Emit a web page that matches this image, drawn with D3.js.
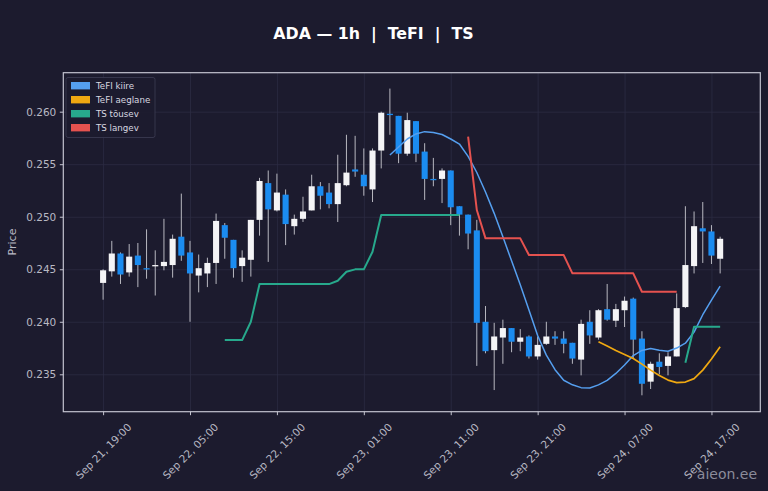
<!DOCTYPE html>
<html lang="et">

<head>
    <meta charset="UTF-8">
    <title>ADA — 1h | TeFI | TS</title>
    <script src="https://cdnjs.cloudflare.com/ajax/libs/d3/7.8.5/d3.min.js"></script>
    <style>
        body {
            margin: 0;
            background: #1c1b2e;
            font-family: 'DejaVu Sans', sans-serif;
        }

        svg#main {
            display: block;
        }

        .axis text {
            fill: #b9b9c4;
            font-family: 'DejaVu Sans', sans-serif;
            font-size: 10.5px;
        }

        .axis line {
            stroke: #c4c4d0;
        }

        .axis path.domain {
            display: none;
        }

        .grid line {
            stroke: #2c2c42;
            stroke-width: 0.8px;
        }

        .grid path.domain {
            display: none;
        }

        line.wick {
            stroke: #b8b8c0;
            stroke-width: 1px;
        }

        .legend text {
            fill: #d8d8e0;
            font-size: 8.7px;
        }
    </style>
</head>

<body>
    <svg id="main" width="768" height="491"></svg>
    <script>
        "use strict";

        // hourly candles, first one at Sep 21 19:00 (UTC)
        const firstCandle = "2025-09-21T19:00:00Z";

        const opens = [0.2437, 0.2448, 0.2465, 0.2447, 0.2463, 0.2451, 0.2453, 0.2453, 0.2454, 0.2481,
            0.2466, 0.2444, 0.2446, 0.2456, 0.2492, 0.2478, 0.2453, 0.2459, 0.2497, 0.2532,
            0.2506, 0.2521, 0.2491, 0.2498, 0.2506, 0.2529, 0.2523, 0.2512, 0.2530, 0.2545,
            0.2540, 0.2526, 0.2563, 0.2598, 0.2596, 0.2560, 0.2591, 0.2562, 0.2536, 0.2536,
            0.2544, 0.2510, 0.2502, 0.2487, 0.2400, 0.2373, 0.2385, 0.2394, 0.2381, 0.2386,
            0.2367, 0.2379, 0.2386, 0.2384, 0.2380, 0.2364, 0.2400, 0.2385, 0.2412, 0.2401,
            0.2411, 0.2422, 0.2384, 0.2343, 0.2362, 0.2358, 0.2367, 0.2414, 0.2453, 0.2489,
            0.2486, 0.2460];

        const highs = [0.2450, 0.2477, 0.2466, 0.2474, 0.2475, 0.2488, 0.2468, 0.2498, 0.2483, 0.2522,
            0.2477, 0.2464, 0.2461, 0.2503, 0.2494, 0.2478, 0.2468, 0.2497, 0.2537, 0.2544,
            0.2541, 0.2526, 0.2502, 0.2519, 0.2540, 0.2533, 0.2532, 0.2559, 0.2578, 0.2577,
            0.2565, 0.2565, 0.2600, 0.2622, 0.2596, 0.2599, 0.2591, 0.2570, 0.2556, 0.2546,
            0.2544, 0.2510, 0.2502, 0.2497, 0.2415, 0.2399, 0.2402, 0.2394, 0.2393, 0.2387,
            0.2386, 0.2400, 0.2391, 0.2391, 0.2380, 0.2402, 0.2411, 0.2412, 0.2436, 0.2417,
            0.2424, 0.2423, 0.2391, 0.2362, 0.2370, 0.2371, 0.2427, 0.2510, 0.2505, 0.2514,
            0.2492, 0.2481];

        const lows = [0.2421, 0.2443, 0.2436, 0.2443, 0.2433, 0.2441, 0.2425, 0.2449, 0.2442, 0.2458,
            0.2400, 0.2428, 0.2433, 0.2436, 0.2460, 0.2442, 0.2438, 0.2443, 0.2482, 0.2457,
            0.2505, 0.2473, 0.2483, 0.2495, 0.2506, 0.2507, 0.2508, 0.2495, 0.2529, 0.2538,
            0.2520, 0.2514, 0.2546, 0.2578, 0.2551, 0.2558, 0.2552, 0.2516, 0.2529, 0.2513,
            0.2492, 0.2482, 0.2469, 0.2358, 0.2370, 0.2335, 0.2360, 0.2371, 0.2372, 0.2365,
            0.2364, 0.2378, 0.2378, 0.2370, 0.2360, 0.2349, 0.2379, 0.2383, 0.2401, 0.2395,
            0.2395, 0.2365, 0.2330, 0.2336, 0.2350, 0.2349, 0.2367, 0.2413, 0.2446, 0.2456,
            0.2455, 0.2446];

        const closes = [0.2449, 0.2465, 0.2445, 0.2462, 0.2454, 0.2450, 0.2454, 0.2457, 0.2479, 0.2463,
            0.2446, 0.2451, 0.2456, 0.2496, 0.2480, 0.2451, 0.2461, 0.2497, 0.2534, 0.2507,
            0.2523, 0.2493, 0.2498, 0.2505, 0.2529, 0.2520, 0.2512, 0.2532, 0.2542, 0.2543,
            0.2529, 0.2563, 0.2599, 0.2597, 0.2560, 0.2592, 0.2560, 0.2536, 0.2535, 0.2544,
            0.2509, 0.2502, 0.2484, 0.2399, 0.2372, 0.2386, 0.2394, 0.2381, 0.2385, 0.2367,
            0.2378, 0.2386, 0.2384, 0.2379, 0.2365, 0.2398, 0.2387, 0.2411, 0.2402, 0.2412,
            0.2420, 0.2383, 0.2341, 0.2360, 0.2357, 0.2367, 0.2413, 0.2454, 0.2491, 0.2486,
            0.2463, 0.2479];

        const _ = null;

        // TeFI kiire (fast)
        const tefiFast = [_, _, _, _, _, _, _, _, _, _,
            _, _, _, _, _, _, _, _, _, _,
            _, _, _, _, _, _, _, _, _, _,
            _, _, _, 0.25588, 0.25664, 0.25740, 0.25788, 0.25810, 0.25802, 0.25783,
            0.25740, 0.25692, 0.25574, 0.25421, 0.25236, 0.25032, 0.24809, 0.24580, 0.24352, 0.24111,
            0.23870, 0.23683, 0.23544, 0.23443, 0.23400, 0.23373, 0.23369, 0.23399, 0.23442, 0.23508,
            0.23588, 0.23678, 0.23727, 0.23746, 0.23729, 0.23719, 0.23750, 0.23796, 0.23902, 0.24067,
            0.24207, 0.24340];

        // TeFI aeglane (slow)
        const tefiSlow = [_, _, _, _, _, _, _, _, _, _,
            _, _, _, _, _, _, _, _, _, _,
            _, _, _, _, _, _, _, _, _, _,
            _, _, _, _, _, _, _, _, _, _,
            _, _, _, _, _, _, _, _, _, _,
            _, _, _, _, _, _, _, 0.23810, 0.23769, 0.23726,
            0.23688, 0.23650, 0.23597, 0.23540, 0.23488, 0.23445, 0.23421, 0.23426, 0.23459, 0.23540,
            0.23645, 0.23762];

        // TS tõusev (trailing stop, up)
        const tsUp = [_, _, _, _, _, _, _, _, _, _,
            _, _, _, _, 0.23826, 0.23826, 0.23826, 0.24000, 0.24359, 0.24359,
            0.24359, 0.24359, 0.24359, 0.24359, 0.24359, 0.24359, 0.24359, 0.24390, 0.24476, 0.24499,
            0.24499, 0.24667, 0.25016, 0.25016, 0.25016, 0.25016, 0.25016, 0.25016, 0.25016, 0.25016,
            0.25016, 0.25016, _, _, _, _, _, _, _, _,
            _, _, _, _, _, _, _, _, _, _,
            _, _, _, _, _, _, _, 0.23610, 0.23952, 0.23952,
            0.23952, 0.23952];

        // TS langev (trailing stop, down)
        const tsDown = [_, _, _, _, _, _, _, _, _, _,
            _, _, _, _, _, _, _, _, _, _,
            _, _, _, _, _, _, _, _, _, _,
            _, _, _, _, _, _, _, _, _, _,
            _, _, 0.25762, 0.25064, 0.24794, 0.24794, 0.24794, 0.24794, 0.24794, 0.24635,
            0.24635, 0.24635, 0.24635, 0.24635, 0.24461, 0.24461, 0.24461, 0.24461, 0.24461, 0.24461,
            0.24461, 0.24461, 0.24286, 0.24286, 0.24286, 0.24286, 0.24286, _, _, _,
            _, _];

        const yTicks = [0.235, 0.240, 0.245, 0.250, 0.255, 0.260];
        const xTicks = ["2025-09-21T19:00:00Z", "2025-09-22T05:00:00Z", "2025-09-22T15:00:00Z",
            "2025-09-23T01:00:00Z", "2025-09-23T11:00:00Z", "2025-09-23T21:00:00Z",
            "2025-09-24T07:00:00Z", "2025-09-24T17:00:00Z"];

        const seriesNames = ["TeFI kiire", "TeFI aeglane", "TS tõusev", "TS langev"];
        const seriesColors = ["#559fef", "#efa811", "#27a98c", "#e5524f"];

        !function () {
            const hour = 3600 * 1000;
            const t0 = new Date(firstCandle).getTime();

            const plot = { left: 63.3, right: 760.3, top: 72.7, bottom: 411.7 };

            const candles = opens.map((o, i) => ({
                time: new Date(t0 + i * hour),
                open: o, high: highs[i], low: lows[i], close: closes[i]
            }));

            const x = d3.scaleUtc()
                .domain([new Date(t0 - 4.58 * hour), new Date(t0 + 75.62 * hour)])
                .range([plot.left, plot.right]);

            const y = d3.scaleLinear()
                .domain([0.23144, 0.26371])
                .range([plot.bottom, plot.top]);

            const svg = d3.select("svg#main");

            svg.append("rect")
                .attr("width", 768).attr("height", 491)
                .attr("fill", "#1c1b2e");

            // grid
            svg.append("g")
                .attr("class", "grid")
                .attr("transform", "translate(" + plot.left + ",0)")
                .call(d3.axisLeft(y).tickValues(yTicks).tickSize(-(plot.right - plot.left)).tickFormat(""));

            svg.append("g")
                .attr("class", "grid")
                .attr("transform", "translate(0," + plot.bottom + ")")
                .call(d3.axisBottom(x).tickValues(xTicks.map(d => new Date(d)))
                    .tickSize(-(plot.bottom - plot.top)).tickFormat(""));

            // candles
            const halfWidth = 0.35 * hour;
            const candleLayer = svg.append("g").attr("class", "candles");

            candleLayer.selectAll("line.wick")
                .data(candles)
                .enter().append("line")
                .attr("class", "wick")
                .attr("x1", d => x(d.time)).attr("x2", d => x(d.time))
                .attr("y1", d => y(d.high)).attr("y2", d => y(d.low));

            candleLayer.selectAll("rect.body")
                .data(candles)
                .enter().append("rect")
                .attr("class", "body")
                .attr("x", d => x(new Date(d.time.getTime() - halfWidth)))
                .attr("width", d => x(new Date(d.time.getTime() + halfWidth)) - x(new Date(d.time.getTime() - halfWidth)))
                .attr("y", d => y(Math.max(d.open, d.close)))
                .attr("height", d => Math.max(1.3, Math.abs(y(d.open) - y(d.close))))
                .attr("fill", d => d.close >= d.open ? "#f4f4f6" : "#1b8cf0");

            // indicator lines
            const series = [tefiFast, tefiSlow, tsUp, tsDown];
            const widths = [1.5, 1.7, 2, 2];

            const line = d3.line()
                .defined(d => d.v !== null)
                .x(d => x(d.time))
                .y(d => y(d.v));

            series.forEach((values, k) => {
                svg.append("path")
                    .datum(values.map((v, i) => ({ time: candles[i].time, v: v })))
                    .attr("fill", "none")
                    .attr("stroke", seriesColors[k])
                    .attr("stroke-width", widths[k])
                    .attr("stroke-linejoin", "round")
                    .attr("d", line);
            });

            // frame
            svg.append("rect")
                .attr("x", plot.left).attr("y", plot.top)
                .attr("width", plot.right - plot.left)
                .attr("height", plot.bottom - plot.top)
                .attr("fill", "none")
                .attr("stroke", "#c4c4d0")
                .attr("stroke-width", 1.2);

            // axes
            svg.append("g")
                .attr("class", "axis")
                .attr("transform", "translate(" + plot.left + ",0)")
                .call(d3.axisLeft(y).tickValues(yTicks).tickFormat(d3.format(".3f")).tickSize(3.5).tickPadding(3.5));

            const xAxis = svg.append("g")
                .attr("class", "axis")
                .attr("transform", "translate(0," + plot.bottom + ")")
                .call(d3.axisBottom(x).tickValues(xTicks.map(d => new Date(d)))
                    .tickFormat(d3.utcFormat("%b %d, %H:%M")).tickSize(3.5));

            xAxis.selectAll("text")
                .attr("text-anchor", "middle")
                .attr("y", 0)
                .attr("dy", "0.35em")
                .attr("transform", "translate(0,39.5) rotate(-45)");

            svg.append("text")
                .attr("transform", "translate(16,242) rotate(-90)")
                .attr("text-anchor", "middle")
                .attr("fill", "#b9b9c4")
                .style("font-size", "11px")
                .text("Price");

            // title
            svg.append("text")
                .attr("x", 373.5).attr("y", 39)
                .attr("text-anchor", "middle")
                .attr("fill", "#ffffff")
                .style("font-size", "15.8px")
                .style("font-weight", "bold")
                .style("white-space", "pre")
                .text("ADA — 1h  |  TeFI  |  TS");

            // legend
            const legend = svg.append("g").attr("class", "legend");

            legend.append("rect")
                .attr("x", 66).attr("y", 77.5)
                .attr("width", 89).attr("height", 60)
                .attr("rx", 2)
                .attr("fill", "#1c1b2e")
                .attr("fill-opacity", 0.85)
                .attr("stroke", "#3e3e54")
                .attr("stroke-width", 0.8);

            const rows = legend.selectAll("g.row")
                .data(seriesNames)
                .enter().append("g")
                .attr("class", "row")
                .attr("transform", (d, i) => "translate(0," + (85.7 + 14 * i) + ")");

            rows.append("rect")
                .attr("x", 71).attr("y", -3.7)
                .attr("width", 19).attr("height", 7.4)
                .attr("fill", (d, i) => seriesColors[i]);

            rows.append("text")
                .attr("x", 96)
                .attr("dy", "0.35em")
                .text(d => d);

            // watermark
            svg.append("text")
                .attr("x", 757).attr("y", 479)
                .attr("text-anchor", "end")
                .attr("fill", "#8b8b9a")
                .style("font-size", "14px")
                .text("aieon.ee");
        }();
    </script>
</body>

</html>
